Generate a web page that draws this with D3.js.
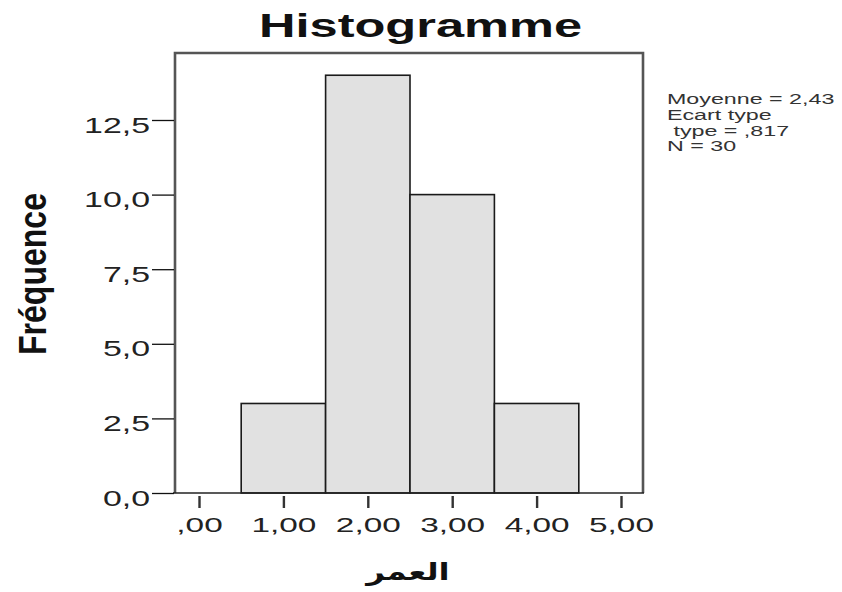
<!DOCTYPE html>
<html><head><meta charset="utf-8">
<script src="https://cdn.jsdelivr.net/npm/d3@7"></script>
<style>body{margin:0;background:#fff}</style>
</head><body>
<svg id="c" width="842" height="592"></svg>
<script>
// ---- data ----
const binStarts = [0.5, 1.5, 2.5, 3.5];
const binEnds   = [1.5, 2.5, 3.5, 4.5];
const counts    = [3, 14, 10, 3];
const xTicks = [0, 1, 2, 3, 4, 5];
const xTickLabels = [",00", "1,00", "2,00", "3,00", "4,00", "5,00"];
const yTicks = [0, 2.5, 5, 7.5, 10, 12.5];
const yTickLabels = ["0,0", "2,5", "5,0", "7,5", "10,0", "12,5"];
const statsLines = ["Moyenne = 2,43", "Ecart type", " type = ,817", "N = 30"];
const titleText = "Histogramme";
const yTitle = "Fréquence";
const xTitle = "العمر";

// ---- layout ----
const svg = d3.select("#c");
const frame = {left: 175, right: 643, top: 53, bottom: 493};
const x = d3.scaleLinear().domain([0, 5]).range([199, 621]);
const y = d3.scaleLinear().domain([0, 12.5]).range([493, 120]);
const font = "'Liberation Sans', Arial, sans-serif";

// bars
const bins = binStarts.map((s, i) => ({x0: s, x1: binEnds[i], n: counts[i]}));
svg.append("g").selectAll("rect").data(bins).join("rect")
  .attr("x", d => x(d.x0)).attr("width", d => x(d.x1) - x(d.x0))
  .attr("y", d => y(d.n)).attr("height", d => y(0) - y(d.n))
  .attr("fill", "#e1e1e1").attr("stroke", "#1a1a1a").attr("stroke-width", 1.6);

// frame
svg.append("path")
  .attr("d", `M${frame.left},${frame.bottom}V${frame.top}H${frame.right}V${frame.bottom}`)
  .attr("fill", "none").attr("stroke", "#555").attr("stroke-width", 2.6);
svg.append("line").attr("x1", frame.left - 2).attr("x2", frame.right + 1)
  .attr("y1", frame.bottom).attr("y2", frame.bottom)
  .attr("stroke", "#222").attr("stroke-width", 1.6);

// y axis
const yAxis = d3.axisLeft(y).tickValues(yTicks)
  .tickFormat((d, i) => yTickLabels[i]).tickSize(22).tickPadding(0);
const gy = svg.append("g").attr("transform", `translate(${frame.left - 1},0)`).call(yAxis);
gy.select(".domain").remove();
gy.selectAll(".tick line").attr("stroke", "#111").attr("stroke-width", 1.3);
const ySx = 1.54;
gy.selectAll(".tick text")
  .attr("font-family", font).attr("font-size", 22).attr("fill", "#222")
  .attr("x", -24 / ySx).attr("dy", null).attr("y", 12)
  .attr("transform", `scale(${ySx},1)`);

// x axis
const xAxis = d3.axisBottom(x).tickValues(xTicks)
  .tickFormat((d, i) => xTickLabels[i]).tickSize(14).tickPadding(0);
const gx = svg.append("g").attr("transform", `translate(0,${frame.bottom + 1})`).call(xAxis);
gx.select(".domain").remove();
gx.selectAll(".tick line").attr("stroke", "#333").attr("stroke-width", 2.4).attr("y1", 2);
const xSx = 1.59;
gx.selectAll(".tick text")
  .attr("font-family", font).attr("font-size", 21).attr("fill", "#222")
  .attr("dy", null).attr("y", 38)
  .attr("transform", `scale(${xSx},1)`);

// title
svg.append("text").attr("x", 259).attr("y", 37)
  .attr("font-family", font).attr("font-weight", "bold").attr("font-size", 33)
  .attr("textLength", 323).attr("lengthAdjust", "spacingAndGlyphs")
  .attr("fill", "#111").text(titleText);

// y title
svg.append("text").attr("transform", "translate(46,355) rotate(-90)")
  .attr("font-family", font).attr("font-weight", "bold").attr("font-size", 38)
  .attr("textLength", 162).attr("lengthAdjust", "spacingAndGlyphs")
  .attr("fill", "#111").text(yTitle);

// x title (Arabic)
svg.append("g").attr("transform", "translate(408,580) scale(1.35,1)")
  .append("text").attr("text-anchor", "middle")
  .attr("font-family", "'DejaVu Sans', sans-serif").attr("font-weight", "bold").attr("font-size", 24)
  .attr("fill", "#111").text(xTitle);

// stats
svg.append("g").selectAll("text").data(statsLines).join("text")
  .attr("transform", (d, i) => `translate(667,${104 + i * 15.8}) scale(1.5,1)`)
  .attr("font-family", font).attr("font-size", 15.5).attr("fill", "#333")
  .attr("xml:space", "preserve").style("white-space", "pre")
  .text(d => d);
</script>
</body></html>
